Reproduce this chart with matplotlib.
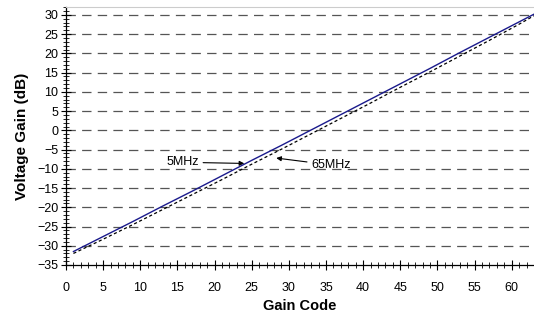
import matplotlib
matplotlib.use("Agg")
import matplotlib.pyplot as plt
from matplotlib.ticker import MultipleLocator

plt.rcParams['font.family'] = ['Liberation Sans', 'DejaVu Sans']

# valores
gain_code = [1, 5, 9, 13, 17, 21, 25, 29, 33, 37, 41, 45, 49, 53, 57, 61, 63]
gain_5mhz = [-31.5, -27.6, -23.7, -19.7, -15.8, -11.8, -7.8, -3.9, 0.1, 4.1, 8.1, 12.1, 16.1, 20.2, 24.2, 28.2, 30.2]
gain_65mhz = [-32.0, -28.3, -24.5, -20.6, -16.7, -12.8, -8.8, -4.9, -0.9, 3.1, 7.1, 11.2, 15.2, 19.3, 23.4, 27.6, 29.8]

x_ticks = list(range(0, 61, 5))
y_ticks = list(range(-35, 31, 5))

fig = plt.figure(figsize=(5.34, 3.18), dpi=100)
ax = fig.add_axes([0.1236, 0.1667, 0.8764, 0.8105])

# rejilla horizontal discontinua
for yv in range(-30, 31, 5):
    ax.axhline(yv, color='#555555', lw=0.9, linestyle=(0, (7.5, 5.0)), zorder=1)

ax.plot(gain_code, gain_65mhz, color='black', lw=0.9, linestyle=(0, (2.5, 2.0)), zorder=3)
ax.plot(gain_code, gain_5mhz, color='#1a1a8c', lw=1.0, zorder=4)

ax.set_xlim(0, 63)
ax.set_ylim(-35, 32)
ax.set_xticks(x_ticks)
ax.set_yticks(y_ticks)
ax.xaxis.set_minor_locator(MultipleLocator(1))
ax.yaxis.set_minor_locator(MultipleLocator(1))
ax.tick_params(which='major', direction='inout', length=7, width=0.8, labelsize=9, pad=2)
ax.tick_params(which='minor', direction='inout', length=4, width=0.6)
ax.tick_params(axis='x', pad=9)

for s in ['left', 'bottom']:
    ax.spines[s].set_linewidth(0.9)
ax.spines['right'].set_visible(False)
ax.spines['top'].set_color('#cccccc')
ax.spines['top'].set_linewidth(0.8)

ax.set_xlabel('Gain Code', fontsize=10.5, fontweight='bold', labelpad=3)
ax.set_ylabel('Voltage Gain (dB)', fontsize=11, fontweight='bold', labelpad=6)

ax.annotate('5MHz', xy=(24, -8.6), xytext=(17.9, -8.3), fontsize=9,
            ha='right', va='center',
            arrowprops=dict(arrowstyle='-|>', color='black', lw=0.8, mutation_scale=7,
                            shrinkA=1, shrinkB=0))
ax.annotate('65MHz', xy=(28.3, -7.2), xytext=(33.0, -9.0), fontsize=9,
            ha='left', va='center',
            arrowprops=dict(arrowstyle='-|>', color='black', lw=0.8, mutation_scale=7,
                            shrinkA=1, shrinkB=0))

fig.savefig('out.png', dpi=100)
